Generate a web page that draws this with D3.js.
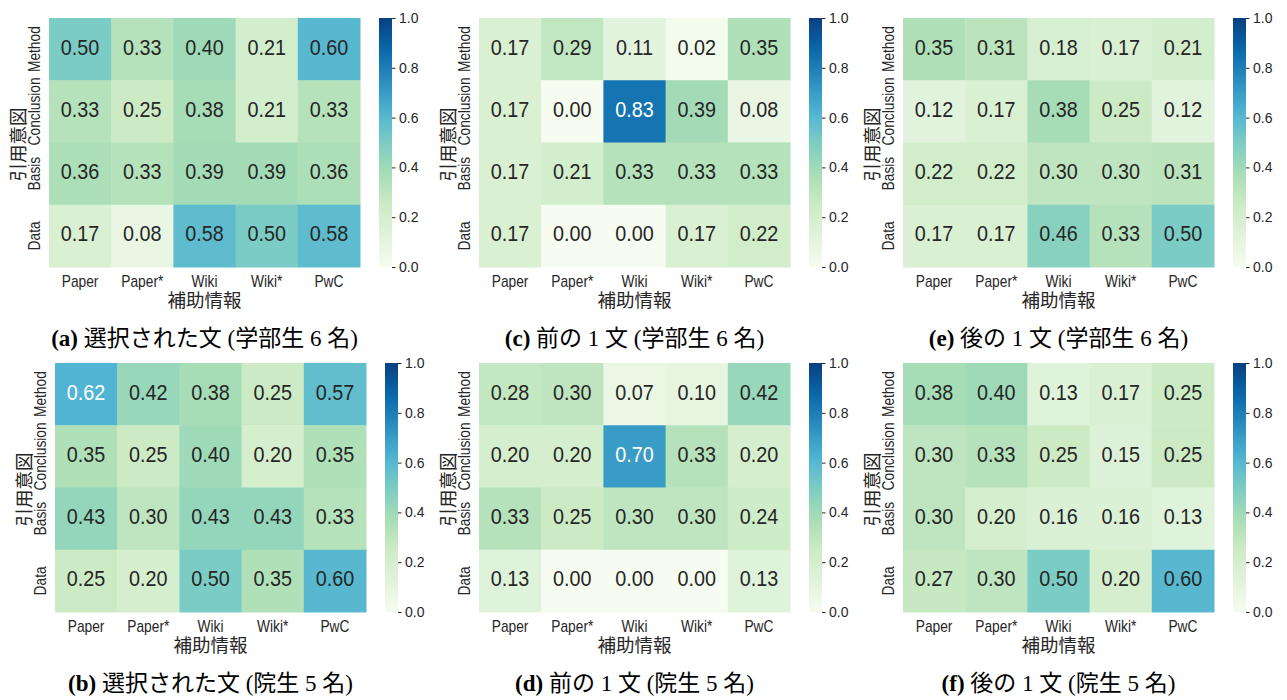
<!DOCTYPE html>
<html>
<head>
<meta charset="utf-8">
<script src="https://cdn.jsdelivr.net/npm/d3@7"></script>
<style>
  body { margin: 0; background: #fff; }
  svg text { font-family: "Liberation Sans", Arial, "Noto Sans CJK JP", sans-serif; fill: #262626; }
  .caption { font-family: "Liberation Serif", "Times New Roman", "Noto Sans CJK JP", serif; font-size: 23px; fill: #000; }
</style>
</head>
<body>
<script>
var rowLabels = ["Method", "Conclusion", "Basis", "Data"];
var colLabels = ["Paper", "Paper*", "Wiki", "Wiki*", "PwC"];
var cbTicks = [0, 0.2, 0.4, 0.6, 0.8, 1.0];

// rows: Method, Conclusion, Basis, Data
var selectedUndergrad = [
  [0.50, 0.33, 0.40, 0.21, 0.60],
  [0.33, 0.25, 0.38, 0.21, 0.33],
  [0.36, 0.33, 0.39, 0.39, 0.36],
  [0.17, 0.08, 0.58, 0.50, 0.58]
];
var selectedGrad = [
  [0.62, 0.42, 0.38, 0.25, 0.57],
  [0.35, 0.25, 0.40, 0.20, 0.35],
  [0.43, 0.30, 0.43, 0.43, 0.33],
  [0.25, 0.20, 0.50, 0.35, 0.60]
];
var prevUndergrad = [
  [0.17, 0.29, 0.11, 0.02, 0.35],
  [0.17, 0.00, 0.83, 0.39, 0.08],
  [0.17, 0.21, 0.33, 0.33, 0.33],
  [0.17, 0.00, 0.00, 0.17, 0.22]
];
var prevGrad = [
  [0.28, 0.30, 0.07, 0.10, 0.42],
  [0.20, 0.20, 0.70, 0.33, 0.20],
  [0.33, 0.25, 0.30, 0.30, 0.24],
  [0.13, 0.00, 0.00, 0.00, 0.13]
];
var nextUndergrad = [
  [0.35, 0.31, 0.18, 0.17, 0.21],
  [0.12, 0.17, 0.38, 0.25, 0.12],
  [0.22, 0.22, 0.30, 0.30, 0.31],
  [0.17, 0.17, 0.46, 0.33, 0.50]
];
var nextGrad = [
  [0.38, 0.40, 0.13, 0.17, 0.25],
  [0.30, 0.33, 0.25, 0.15, 0.25],
  [0.30, 0.20, 0.16, 0.16, 0.13],
  [0.27, 0.30, 0.50, 0.20, 0.60]
];

var panels = [
  { tag: "(a)", title: "選択された文 (学部生 6 名)", data: selectedUndergrad, x: 49,  y: 18 },
  { tag: "(b)", title: "選択された文 (院生 5 名)",   data: selectedGrad,      x: 55,  y: 363 },
  { tag: "(c)", title: "前の 1 文 (学部生 6 名)",     data: prevUndergrad,     x: 479, y: 18 },
  { tag: "(d)", title: "前の 1 文 (院生 5 名)",       data: prevGrad,          x: 479, y: 363 },
  { tag: "(e)", title: "後の 1 文 (学部生 6 名)",     data: nextUndergrad,     x: 903, y: 18 },
  { tag: "(f)", title: "後の 1 文 (院生 5 名)",       data: nextGrad,          x: 903, y: 363 }
];

// matplotlib GnBu (linear segments between the 9 brewer colours)
var gnbu = ["#f7fcf0", "#e0f3db", "#ccebc5", "#a8ddb5", "#7bccc4", "#4eb3d3", "#2b8cbe", "#0868ac", "#084081"];
var color = d3.scaleLinear()
    .domain(d3.range(9).map(function(i) { return i / 8; }))
    .range(gnbu)
    .interpolate(d3.interpolateRgb);

function lum(c) {
  var rgb = d3.rgb(c);
  var f = function(v) { v /= 255; return v <= 0.03928 ? v / 12.92 : Math.pow((v + 0.055) / 1.055, 2.4); };
  return 0.2126 * f(rgb.r) + 0.7152 * f(rgb.g) + 0.0722 * f(rgb.b);
}

var width = 1287, height = 700,
    hmW = 311, hmH = 249, cbGap = 19, cbW = 13;

var svg = d3.select("body").append("svg")
    .attr("width", width)
    .attr("height", height);

var defs = svg.append("defs");
var grad = defs.append("linearGradient")
    .attr("id", "cbgrad")
    .attr("x1", 0).attr("y1", 1).attr("x2", 0).attr("y2", 0);
d3.range(0, 1.0001, 0.05).forEach(function(t) {
  grad.append("stop").attr("offset", t).attr("stop-color", color(t));
});

var x = d3.scaleBand().domain(colLabels).range([0, hmW]);
var y = d3.scaleBand().domain(rowLabels).range([0, hmH]);
var cb = d3.scaleLinear().domain([0, 1]).range([hmH, 0]);

panels.forEach(function(p) {
  var g = svg.append("g").attr("transform", "translate(" + p.x + "," + p.y + ")");

  var cells = [];
  p.data.forEach(function(row, i) {
    row.forEach(function(v, j) { cells.push({ r: rowLabels[i], c: colLabels[j], v: v }); });
  });

  g.selectAll("rect.cell")
      .data(cells)
    .enter().append("rect")
      .attr("class", "cell")
      .attr("x", function(d) { return x(d.c); })
      .attr("y", function(d) { return y(d.r); })
      .attr("width", x.bandwidth() + 0.5)
      .attr("height", y.bandwidth() + 0.5)
      .attr("fill", function(d) { return color(d.v); });

  g.selectAll("text.annot")
      .data(cells)
    .enter().append("text")
      .attr("class", "annot")
      .attr("transform", function(d) {
        return "translate(" + (x(d.c) + x.bandwidth() / 2) + "," + (y(d.r) + y.bandwidth() / 2 + 5.6) + ") scale(0.9,1)";
      })
      .attr("text-anchor", "middle")
      .style("font-size", "22px")
      .style("fill", function(d) { return lum(color(d.v)) > 0.408 ? "#262626" : "#ffffff"; })
      .text(function(d) { return d3.format(".2f")(d.v); });

  // x axis
  var xa = g.append("g")
      .attr("transform", "translate(0," + hmH + ")")
      .call(d3.axisBottom(x).tickSize(0).tickPadding(0));
  xa.select(".domain").remove();
  xa.selectAll("text")
      .attr("y", 20).attr("dy", null)
      .attr("transform", "scale(0.86,1)")
      .style("font-size", "16px")
      .style("fill", "#262626");

  // y axis (rotated labels)
  var ya = g.append("g").call(d3.axisLeft(y).tickSize(0).tickPadding(0));
  ya.select(".domain").remove();
  ya.selectAll("text")
      .attr("x", null).attr("dy", null)
      .attr("transform", "translate(-9,0) rotate(-90) scale(0.86,1)")
      .attr("text-anchor", "middle")
      .style("font-size", "16px")
      .style("fill", "#262626");

  g.append("text")
      .attr("x", hmW / 2)
      .attr("y", hmH + 40)
      .attr("text-anchor", "middle")
      .style("font-size", "18.5px")
      .text("補助情報");

  g.append("text")
      .attr("transform", "translate(-24," + (hmH / 2 + 2) + ") rotate(-90)")
      .attr("text-anchor", "middle")
      .style("font-size", "18.5px")
      .text("引用意図");

  // colorbar
  var cg = g.append("g").attr("transform", "translate(" + (hmW + cbGap) + ",0)");
  cg.append("rect")
      .attr("width", cbW)
      .attr("height", hmH)
      .attr("fill", "url(#cbgrad)");
  var ca = cg.append("g")
      .attr("transform", "translate(" + cbW + ",0)")
      .call(d3.axisRight(cb).tickValues(cbTicks).tickFormat(d3.format(".1f")).tickSize(3.5).tickPadding(3.5));
  ca.select(".domain").remove();
  ca.selectAll("line").attr("stroke", "#262626");
  ca.selectAll("text").style("font-size", "14px").style("fill", "#262626");

  // caption
  var cap = g.append("text")
      .attr("class", "caption")
      .attr("x", hmW / 2)
      .attr("y", hmH + 79)
      .attr("text-anchor", "middle");
  cap.append("tspan").style("font-weight", "bold").text(p.tag);
  cap.append("tspan").text(" " + p.title);
});
</script>
</body>
</html>
